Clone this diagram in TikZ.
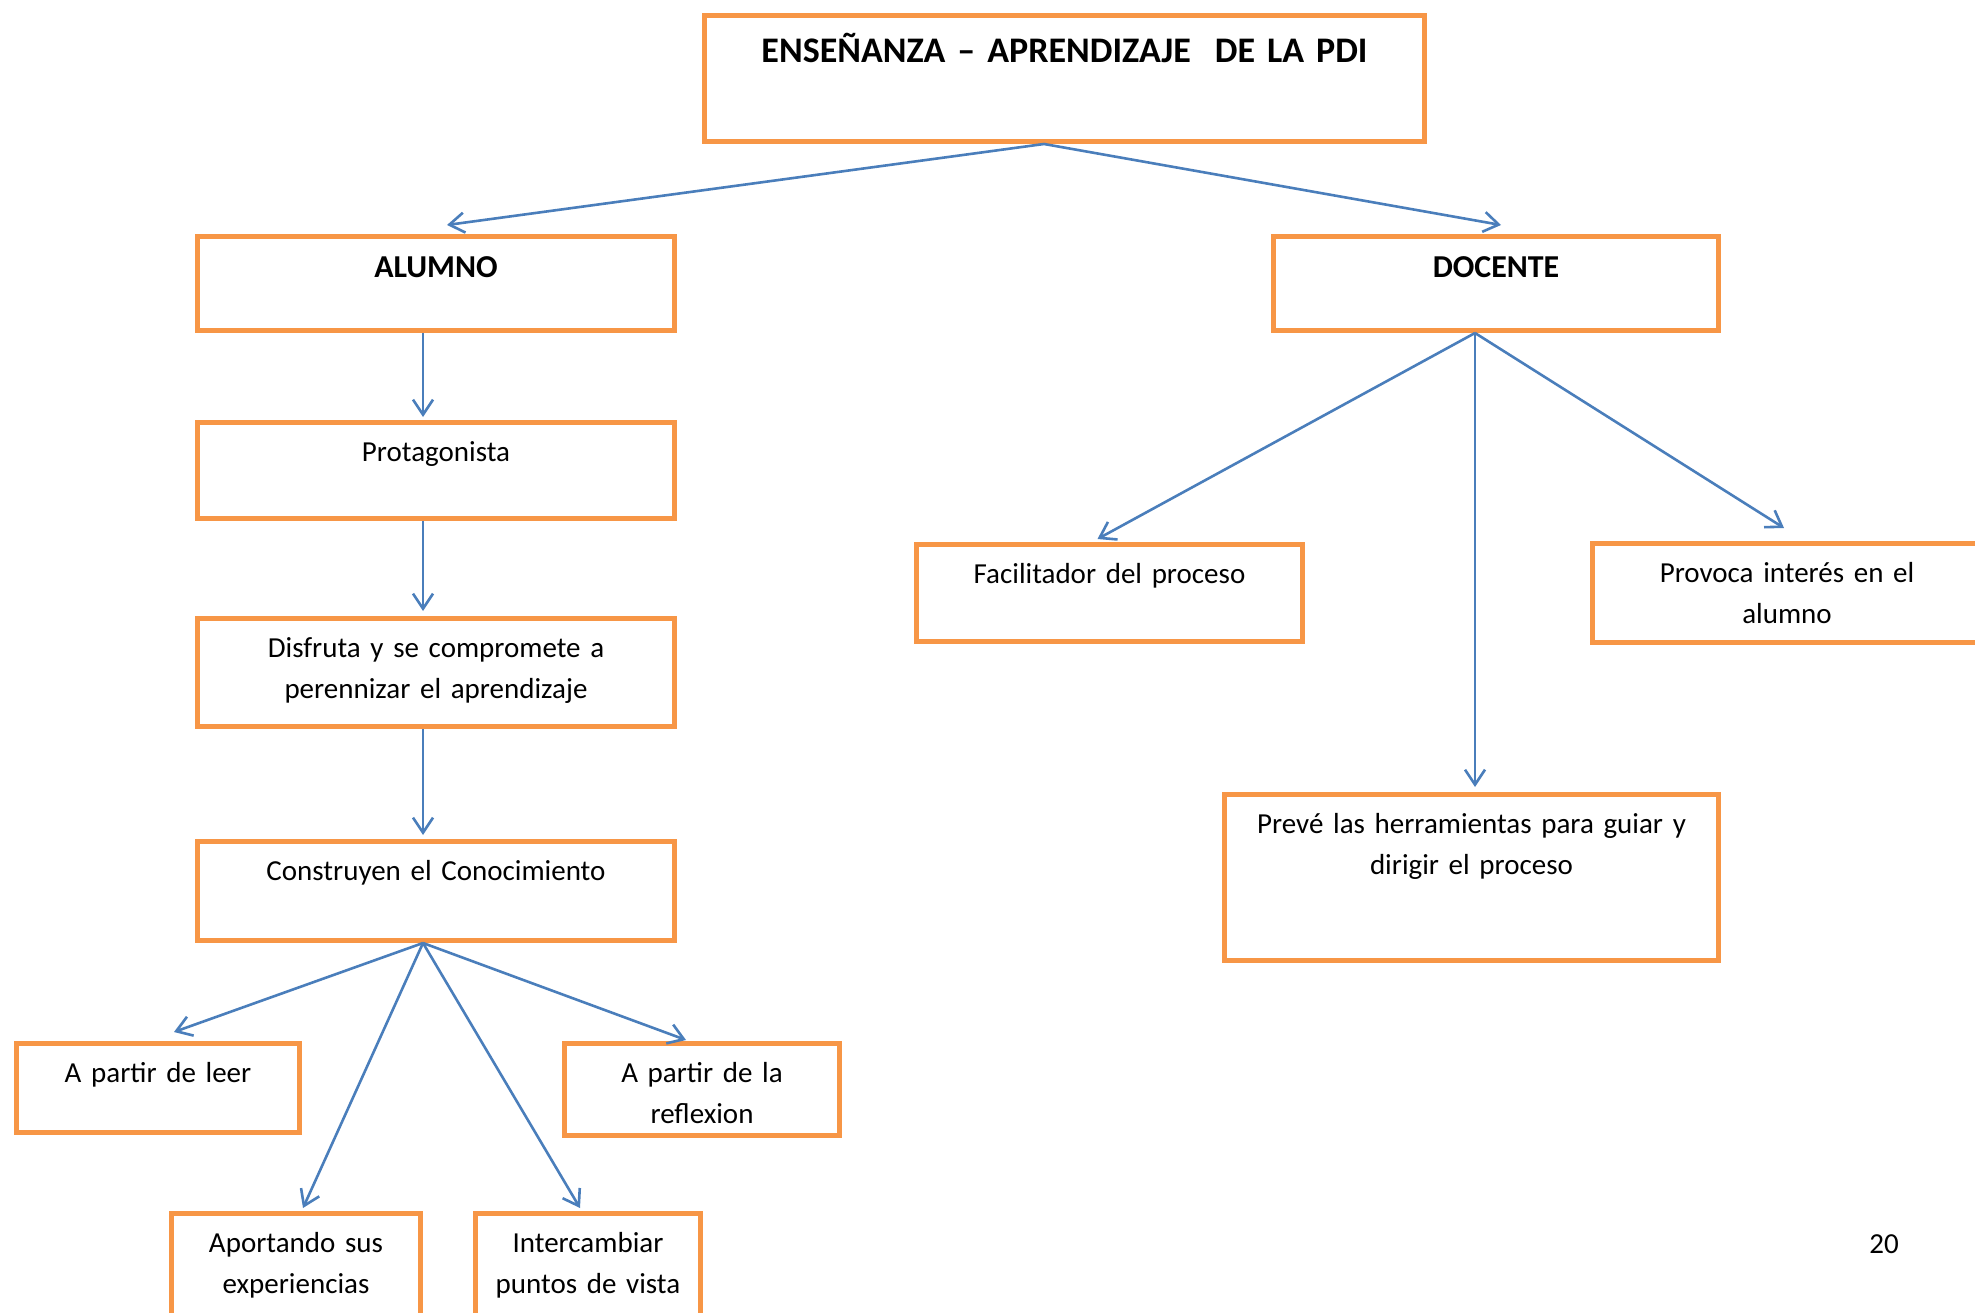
\documentclass[tikz,border=0pt]{standalone}
\usepackage{fontspec}
\setmainfont{Carlito}
\usetikzlibrary{arrows.meta,positioning}
\definecolor{BoxOrange}{HTML}{F79646}
\definecolor{LineBlue}{HTML}{4A7EBB}
\newcommand{\bodyfont}{\fontsize{29pt}{41.5pt}\selectfont}
\newcommand{\headfont}{\fontsize{31.9pt}{41.5pt}\selectfont\bfseries}
\newcommand{\titlefont}{\fontsize{36pt}{45pt}\selectfont\bfseries}

\begin{document}
\begin{tikzpicture}[
  x=1pt,y=-1pt,
  box/.style={draw=BoxOrange,line width=5pt,fill=white,inner sep=0pt},
  txt/.style={anchor=base,align=center,text width=700pt,font=\bodyfont,yshift=-41pt},
  arr/.style={-{Straight Barb[length=15pt,width=20pt]},line width=2.6pt,draw=LineBlue}
]
\useasboundingbox (0,0) rectangle (1975,1313);
% cabecera
\node[box,minimum width=720pt,minimum height=126pt,
  label={[txt,font=\titlefont,yshift=-9pt]north:ENSEÑANZA – APRENDIZAJE\ \ DE LA PDI}] (title) at (1064.5,78.5) {};
\node[box,minimum width=477pt,minimum height=94pt,
  label={[txt,font=\headfont,yshift=-3pt]north:ALUMNO}] (alumno) at (436,283.5) {};
\node[box,minimum width=445pt,minimum height=94pt,
  label={[txt,font=\headfont,yshift=-3pt]north:DOCENTE}] (docente) at (1496,283.5) {};
% rama del alumno
\node[box,minimum width=477pt,minimum height=96pt,below=87pt of alumno,
  label={[txt]north:Protagonista}] (protag) {};
\node[box,minimum width=477pt,minimum height=108pt,below=95pt of protag,
  label={[txt]north:Disfruta y se compromete a\\perennizar el aprendizaje}] (disfruta) {};
\node[box,minimum width=477pt,minimum height=99pt,below=110pt of disfruta,
  label={[txt]north:Construyen el Conocimiento}] (construyen) {};
\node[box,minimum width=283pt,minimum height=89pt,
  label={[txt]north:A partir de leer}] (leer) at (158,1088) {};
\node[box,minimum width=275pt,minimum height=92pt,
  label={[txt]north:A partir de la\\reflexion}] (reflexion) at (702,1089.5) {};
\node[box,minimum width=249pt,minimum height=125pt,
  label={[txt]north:Aportando sus\\experiencias}] (aportando) at (296,1276) {};
\node[box,minimum width=225pt,minimum height=125pt,
  label={[txt]north:Intercambiar\\puntos de vista}] (intercambiar) at (588,1276) {};
% rama del docente
\node[box,minimum width=386pt,minimum height=97pt,
  label={[txt]north:Facilitador del proceso}] (facilitador) at (1109.5,593) {};
\node[box,minimum width=389pt,minimum height=99pt,
  label={[txt]north:Provoca interés en el\\alumno}] (provoca) at (1787,593) {};
\node[box,minimum width=494pt,minimum height=166pt,
  label={[txt]north:Prevé las herramientas para guiar y\\dirigir el proceso}] (preve) at (1471.5,877.5) {};
\node[font=\bodyfont,anchor=base] (pagenum) at (1884,1253) {20};

\draw[arr] ([xshift=-20.5pt]title.south) -- ([xshift=11pt,yshift=9pt]alumno.north);
\draw[arr] ([xshift=-20.5pt]title.south) -- ([xshift=5pt,yshift=9pt]docente.north);
\draw[arr] ([xshift=-13pt]alumno.south) -- ([xshift=-13pt,yshift=3pt]protag.north);
\draw[arr] ([xshift=-13pt]protag.south) -- ([xshift=-13pt,yshift=5pt]disfruta.north);
\draw[arr] ([xshift=-13pt]disfruta.south) -- ([xshift=-13pt,yshift=4pt]construyen.north);
\draw[arr] ([xshift=-13pt]construyen.south) -- ([xshift=16pt,yshift=9pt]leer.north);
\draw[arr] ([xshift=-13pt]construyen.south) -- ([xshift=7pt,yshift=3pt]aportando.north);
\draw[arr] ([xshift=-13pt]construyen.south) -- ([xshift=-8pt,yshift=3pt]intercambiar.north);
\draw[arr] ([xshift=-13pt]construyen.south) -- ([xshift=-16pt,yshift=1pt]reflexion.north);
\draw[arr] ([xshift=-21pt]docente.south) -- ([xshift=-12pt,yshift=3pt]facilitador.north);
\draw[arr] ([xshift=-21pt]docente.south) -- ([xshift=3.5pt,yshift=5pt]preve.north);
\draw[arr] ([xshift=-21pt]docente.south) -- ([xshift=-3pt,yshift=13pt]provoca.north);
\end{tikzpicture}
\end{document}
